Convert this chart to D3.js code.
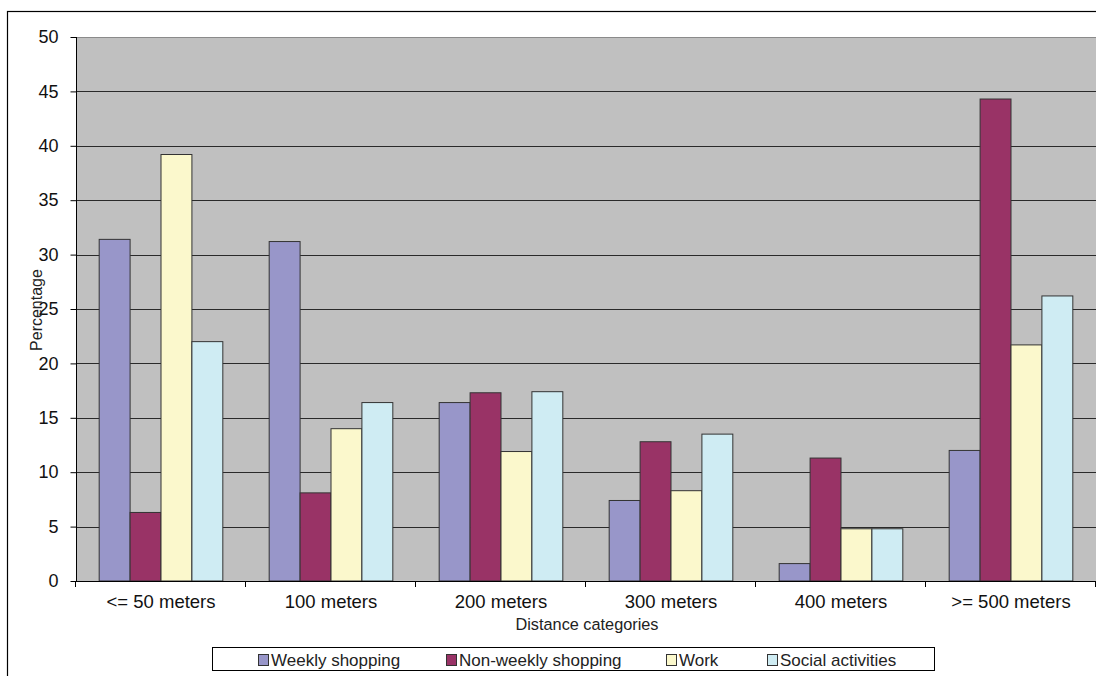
<!DOCTYPE html>
<html>
<head>
<meta charset="utf-8">
<script src="https://cdn.jsdelivr.net/npm/d3@7"></script>
<style>
    body { margin: 0; background: #fff; }
    svg { display: block; font-family: "Liberation Sans", Arial, sans-serif; }
</style>
</head>
<body>
<svg id="chart" width="1096" height="676"></svg>
<script>
const categories = ["<= 50 meters", "100 meters", "200 meters", "300 meters", "400 meters", ">= 500 meters"];
const seriesNames = ["Weekly shopping", "Non-weekly shopping", "Work", "Social activities"];
const weekly = [31.4, 31.2, 16.4, 7.4, 1.6, 12.0];
const nonWeekly = [6.3, 8.1, 17.3, 12.8, 11.3, 44.3];
const work = [39.2, 14.0, 11.9, 8.3, 4.8, 21.7];
const social = [22.0, 16.4, 17.4, 13.5, 4.8, 26.2];
const yTicks = [0, 5, 10, 15, 20, 25, 30, 35, 40, 45, 50];
const colors = ["#9896c9", "#993366", "#fbf8cc", "#cfecf3"];

const seriesValues = [weekly, nonWeekly, work, social];
const rows = categories.map((c, i) => ({
    cat: c,
    vals: seriesNames.map((s, j) => ({key: s, idx: j, value: seriesValues[j][i]}))
}));

const svg = d3.select("#chart");
const plotLeft = 76, plotRight = 1096, plotTop = 37, plotBottom = 581;

// outer chart border
svg.append("rect")
    .attr("x", 7.5).attr("y", 11.5)
    .attr("width", 1100).attr("height", 700)
    .attr("fill", "#fff")
    .attr("stroke", "#000")
    .attr("stroke-width", 1.2);

// one slot per category, bars centred with a 150% gap (excel style)
const slot = d3.scaleBand().domain(categories).range([plotLeft, plotRight]);
const inner = d3.scaleBand().domain(seriesNames)
    .range([slot.bandwidth() * 0.75 / 5.5, slot.bandwidth() * 4.75 / 5.5]);
const y = d3.scaleLinear().domain([0, 50]).range([plotBottom, plotTop]);

// plot background
svg.append("rect")
    .attr("x", plotLeft).attr("y", plotTop)
    .attr("width", plotRight - plotLeft).attr("height", plotBottom - plotTop)
    .attr("fill", "#c0c0c0");

// gridlines
svg.append("g")
    .selectAll("line")
    .data(yTicks.filter(t => t > 0 && t < 50))
    .join("line")
    .attr("x1", plotLeft).attr("x2", plotRight)
    .attr("y1", d => Math.round(y(d)) + 0.5).attr("y2", d => Math.round(y(d)) + 0.5)
    .attr("stroke", "#2a2a2a")
    .attr("stroke-width", 1);

svg.append("line")
    .attr("x1", plotLeft).attr("x2", plotRight)
    .attr("y1", plotTop + 0.5).attr("y2", plotTop + 0.5)
    .attr("stroke", "#8a8a8a");

// bars
const groups = svg.append("g")
    .selectAll("g")
    .data(rows)
    .join("g")
    .attr("transform", d => "translate(" + slot(d.cat) + ",0)");

groups.selectAll("rect")
    .data(d => d.vals)
    .join("rect")
    .attr("x", d => inner(d.key))
    .attr("y", d => y(d.value))
    .attr("width", inner.bandwidth())
    .attr("height", d => plotBottom - y(d.value))
    .attr("fill", d => colors[d.idx])
    .attr("stroke", "#333")
    .attr("stroke-width", 1);

// y axis
const yAxis = svg.append("g")
    .attr("transform", "translate(" + (plotLeft + 0.5) + ",0)")
    .call(d3.axisLeft(y).tickValues(yTicks).tickSize(6).tickPadding(12));
yAxis.select(".domain").attr("stroke", "#000").attr("d", "M0," + plotTop + "V" + plotBottom);
yAxis.selectAll("line").attr("stroke", "#000");
yAxis.selectAll("text")
    .attr("font-size", 18)
    .attr("font-family", "Liberation Sans, Arial, sans-serif")
    .attr("fill", "#111");

// x axis
const xAxis = svg.append("g")
    .attr("transform", "translate(0," + (plotBottom + 0.5) + ")")
    .call(d3.axisBottom(slot).tickSize(0).tickPadding(13));
xAxis.select(".domain").attr("stroke", "#000").attr("d", "M" + plotLeft + ",0H" + plotRight);
xAxis.selectAll("text")
    .attr("font-size", 18.5)
    .attr("font-family", "Liberation Sans, Arial, sans-serif")
    .attr("fill", "#111");

svg.append("g")
    .selectAll("line")
    .data(d3.range(categories.length + 1))
    .join("line")
    .attr("x1", i => Math.round(plotLeft + i * slot.step()) - 0.5)
    .attr("x2", i => Math.round(plotLeft + i * slot.step()) - 0.5)
    .attr("y1", plotBottom).attr("y2", plotBottom + 6)
    .attr("stroke", "#000");

// axis titles
svg.append("text")
    .attr("x", 587).attr("y", 630)
    .attr("text-anchor", "middle")
    .attr("font-size", 16.3)
    .attr("fill", "#222")
    .text("Distance categories");

svg.append("text")
    .attr("transform", "translate(42,310) rotate(-90)")
    .attr("text-anchor", "middle")
    .attr("font-size", 16)
    .attr("fill", "#222")
    .text("Percentage");

// legend
const legend = svg.append("g");
legend.append("rect")
    .attr("x", 212.5).attr("y", 647.5)
    .attr("width", 722).attr("height", 23)
    .attr("fill", "#fff")
    .attr("stroke", "#000");

const legendX = [258, 446, 666, 767];
const items = legend.selectAll("g")
    .data(seriesNames)
    .join("g")
    .attr("transform", (d, i) => "translate(" + legendX[i] + ",654)");

items.append("rect")
    .attr("x", 0.5).attr("y", 0.5)
    .attr("width", 10).attr("height", 11)
    .attr("fill", (d, i) => colors[i])
    .attr("stroke", "#333");

items.append("text")
    .attr("x", 13).attr("y", 12)
    .attr("font-size", 17)
    .attr("fill", "#222")
    .text(d => d);
</script>
</body>
</html>
